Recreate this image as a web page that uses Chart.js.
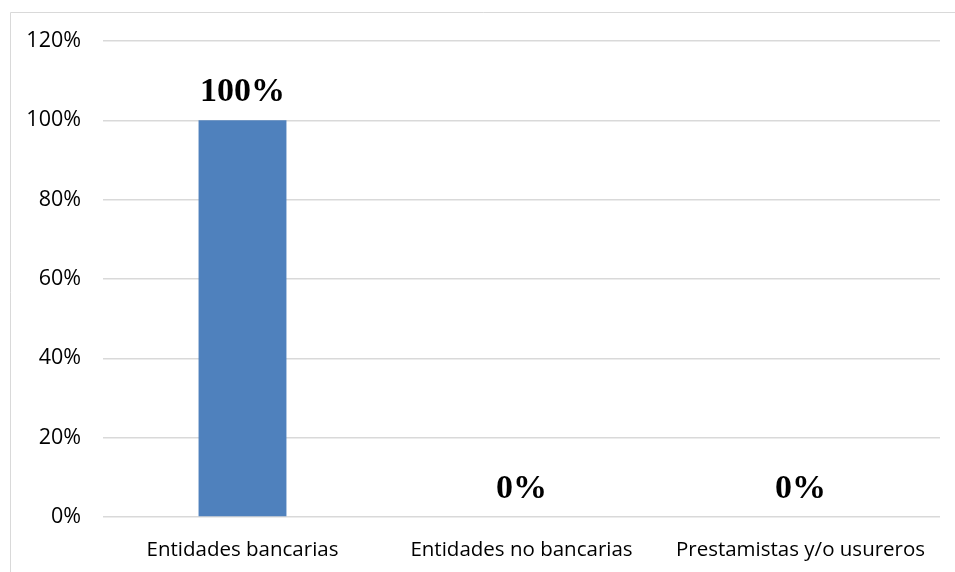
<!DOCTYPE html>
<html>
<head>
<meta charset="utf-8">
<script src="https://cdn.jsdelivr.net/npm/chart.js@4.4.0/dist/chart.umd.min.js"></script>
<style>
  html, body { margin: 0; padding: 0; background: #fff; }
  #wrap { width: 955px; height: 572px; position: relative; }
</style>
</head>
<body>
<div id="wrap"><canvas id="myChart"></canvas></div>
<script>
// data
var categories = ['Entidades bancarias', 'Entidades no bancarias', 'Prestamistas y/o usureros'];
var values = [100, 0, 0];
var tickValues = [0, 20, 40, 60, 80, 100, 120];

// outer frame like the excel chart border
var framePlugin = {
  id: 'frame',
  beforeDraw: function(chart) {
    var c = chart.ctx;
    c.save();
    c.strokeStyle = '#D9D9D9';
    c.lineWidth = 1;
    c.beginPath();
    c.moveTo(10.5, 580);
    c.lineTo(10.5, 12.5);
    c.lineTo(960, 12.5);
    c.stroke();
    c.restore();
  }
};

// value labels over the bars
var labelPlugin = {
  id: 'barLabels',
  afterDatasetsDraw: function(chart) {
    var c = chart.ctx;
    var meta = chart.getDatasetMeta(0);
    c.save();
    c.font = 'bold 34px "Liberation Serif", "Times New Roman", serif';
    c.fillStyle = '#000';
    c.textAlign = 'center';
    c.textBaseline = 'alphabetic';
    meta.data.forEach(function(bar, i) {
      c.fillText(values[i] + '%', bar.x, bar.y - 19);
    });
    c.restore();
  }
};

var ctx = document.getElementById('myChart').getContext('2d');
var myChart = new Chart(ctx, {
  type: 'bar',
  data: {
    labels: categories,
    datasets: [{
      data: values,
      backgroundColor: '#4F81BD',
      borderWidth: 0,
      categoryPercentage: 1,
      barPercentage: 0.315
    }]
  },
  options: {
    responsive: true,
    maintainAspectRatio: false,
    animation: false,
    layout: {
      padding: { left: 10, top: 41, right: 15, bottom: 0 }
    },
    plugins: {
      legend: { display: false },
      tooltip: { enabled: false }
    },
    scales: {
      x: {
        grid: { display: false, drawTicks: false },
        border: { display: false },
        ticks: {
          padding: 21,
          color: '#000',
          font: { family: '"Open Sans"', size: 20.5 }
        },
        afterFit: function(s) { s.height = 55; }
      },
      y: {
        min: 0,
        max: 120,
        afterBuildTicks: function(s) {
          s.ticks = tickValues.map(function(v) { return { value: v }; });
        },
        grid: { color: '#D9D9D9', lineWidth: 1.5, drawTicks: false },
        border: { display: false },
        ticks: {
          padding: 22,
          color: '#000',
          font: { family: '"Open Sans"', size: 21.5 },
          callback: function(v) { return v + '%'; }
        },
        afterFit: function(s) { s.width = 93; }
      }
    }
  },
  plugins: [framePlugin, labelPlugin]
});
</script>
</body>
</html>
